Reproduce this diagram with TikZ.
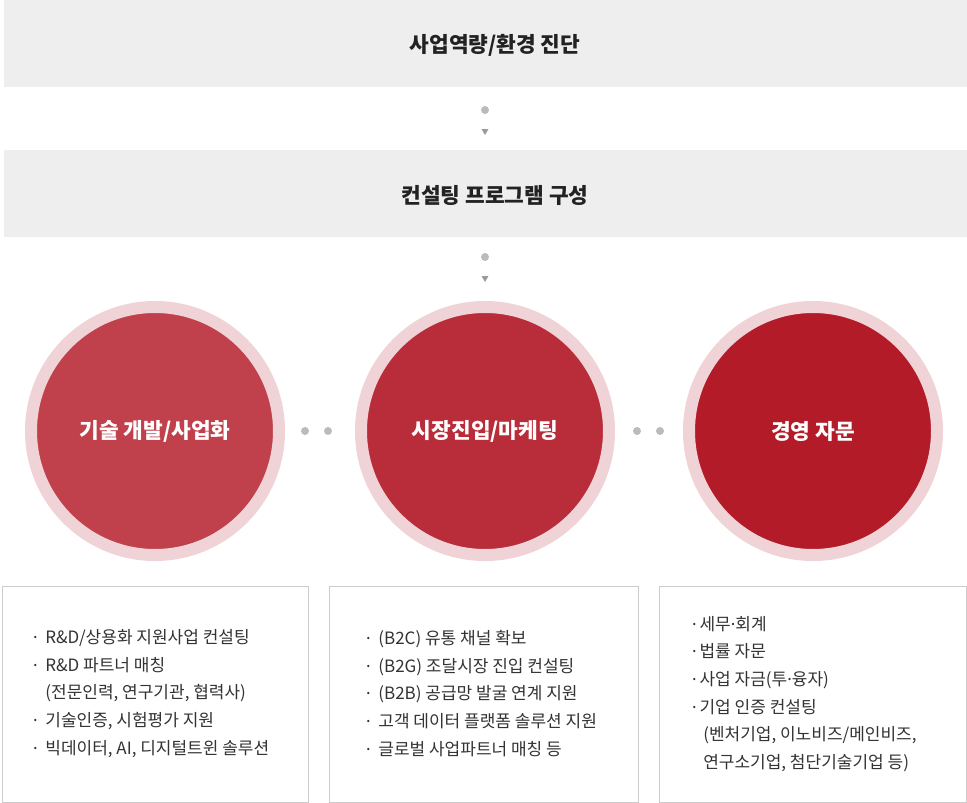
\documentclass[tikz,border=0pt]{standalone}
\usepackage{fontspec}
\setmainfont{Noto Sans CJK KR}
\newfontfamily\latinf{Noto Sans}
\newcommand{\mdot}{{\latinf ·}}
\usetikzlibrary{shapes.geometric}
\definecolor{boxgray}{HTML}{EEEEEE}
\definecolor{dotgray}{HTML}{BBBBBB}
\definecolor{tri}{HTML}{999999}
\definecolor{ringc}{HTML}{EFD3D6}
\definecolor{redA}{HTML}{C0414C}
\definecolor{redB}{HTML}{B92D3A}
\definecolor{redC}{HTML}{B31B28}
\definecolor{linegray}{HTML}{CCCCCC}
\definecolor{txt}{HTML}{222222}
\definecolor{listtxt}{HTML}{333333}
\tikzset{
  graybox/.style={fill=boxgray, draw=none, minimum width=963pt, minimum height=87pt, inner sep=0pt},
  titletext/.style={inner sep=0pt, text=txt, font=\fontsize{21.4}{24}\selectfont\bfseries},
  dotnode/.style={circle, fill=dotgray, draw=none, minimum size=8pt, inner sep=0pt},
  tridown/.style={regular polygon, regular polygon sides=3, shape border rotate=180, fill=tri, draw=none,
    minimum size=8pt, inner sep=0pt},
  bigcircle/.style={circle, draw=ringc, line width=12pt, minimum size=248pt, inner sep=0pt,
    text=white, font=\fontsize{21.4}{24}\selectfont\bfseries},
  listbox/.style={draw=linegray, line width=1pt, fill=white, minimum height=216pt, inner sep=0pt},
  listtext/.style={anchor=west, align=left, inner sep=0pt, text=listtxt,
    font=\fontsize{17}{27.6}\selectfont},
}
\begin{document}
\begin{tikzpicture}[x=1pt,y=-1pt]
\useasboundingbox (0,0) rectangle (967,803);
% top boxes
\node[graybox] (diag) at (485.5,43.5) {};
\node[titletext] (diagt) at (495,45.5) {사업역량/환경 진단};
\node[dotnode] (d1) at (485,110) {};
\node[tridown] (t1) at (485,131) {};
\node[graybox] (prog) at (485.5,193.5) {};
\node[titletext] (progt) at (495,195.5) {컨설팅 프로그램 구성};
\node[dotnode] (d2) at (485,257) {};
\node[tridown] (t2) at (485,278) {};
% circles
\node[bigcircle, fill=redA] (c1) at (155,431) {기술 개발/사업화};
\node[bigcircle, fill=redB] (c2) at (485,431) {시장진입/마케팅};
\node[bigcircle, fill=redC] (c3) at (813,431) {경영 자문};
\node[dotnode] (e1) at (305,431) {};
\node[dotnode] (e2) at (328,431) {};
\node[dotnode] (e3) at (637,431) {};
\node[dotnode] (e4) at (660,431) {};
% bottom boxes
\node[listbox, minimum width=306pt] (b1) at (155,694) {};
\node[listbox, minimum width=309pt] (b2) at (483.5,694) {};
\node[listbox, minimum width=307pt] (b3) at (812.5,694) {};
\node[listtext] (l1) at (33,693.5) {\mdot\ \ R\&D/상용화 지원사업 컨설팅\\
\mdot\ \ R\&D 파트너 매칭\\
\phantom{\mdot\ \ }(전문인력, 연구기관, 협력사)\\
\mdot\ \ 기술인증, 시험평가 지원\\
\mdot\ \ 빅데이터, AI, 디지털트윈 솔루션};
\node[listtext] (l2) at (366,693.5) {\mdot\ \ (B2C) 유통 채널 확보\\
\mdot\ \ (B2G) 조달시장 진입 컨설팅\\
\mdot\ \ (B2B) 공급망 발굴 연계 지원\\
\mdot\ \ 고객 데이터 플랫폼 솔루션 지원\\
\mdot\ \ 글로벌 사업파트너 매칭 등};
\node[listtext] (l3) at (692,694) {\mdot\,세무\mdot 회계\\
\mdot\,법률 자문\\
\mdot\,사업 자금(투\mdot 융자)\\
\mdot\,기업 인증 컨설팅\\
\hspace{0.65em}(벤처기업, 이노비즈/메인비즈,\\
\hspace{0.65em}연구소기업, 첨단기술기업 등)};
\end{tikzpicture}
\end{document}
